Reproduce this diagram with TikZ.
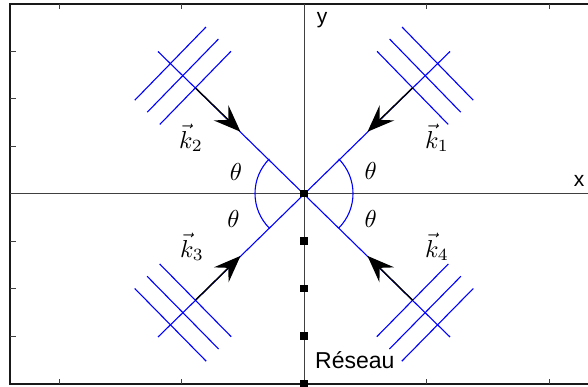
\documentclass[tikz,border=0pt]{standalone}
\usepackage{fontspec}
\setsansfont{Liberation Sans}
\usetikzlibrary{calc,arrows.meta}
\begin{document}
\begin{tikzpicture}[x=1pt,y=-1pt,
  frame/.style={black!90, line width=1.4pt},
  axisline/.style={black!75, line width=1pt},
  tickline/.style={black!75, line width=1pt},
  wave/.style={blue, line width=1.1pt},
  kvec/.style={black, line width=1.4pt, -{Stealth[length=27pt,width=21pt,inset=10pt]}},
  lat/.style={fill=black, minimum size=7.5pt, inner sep=0pt, draw=none, rectangle},
  mlab/.style={scale=2.45, inner sep=0pt},
  slab/.style={font=\sffamily\fontsize{21}{24}\selectfont, inner sep=0pt}]
\useasboundingbox (0,0) rectangle (588,387);
% frame and axes
\draw[frame] (588,4) -- (10,4) -- (10,384) -- (588,384);
\draw[axisline] (10,193.5) -- (588,193.5);
\draw[axisline] (304,4) -- (304,384);
\foreach \x in {59,181.5,426.5,549}{
  \draw[tickline] (\x,4) -- (\x,9.5);
  \draw[tickline] (\x,384) -- (\x,378.5);
}
\foreach \y in {51.5,99,146.5,241,288.5,336}{
  \draw[tickline] (10,\y) -- (15.5,\y);
}
% geometry
\coordinate (O) at (304,193.5);
\coordinate (E1) at (450,51.5);
\coordinate (E2) at (158,51.5);
\coordinate (E3) at (158,337);
\coordinate (E4) at (450,337);
\draw[wave] (E2) -- (E4);
\draw[wave] (E1) -- (E3);
\foreach \e in {E1,E2,E3,E4}{
  \foreach \f in {0.744,0.83,0.915}{
    \coordinate (c) at ($(O)!\f!(\e)$);
    \draw[wave] ($(c)!51pt!90:(O)$) -- ($(c)!51pt!-90:(O)$);
  }
}
\draw[wave] (O) ++(135:49pt) arc[start angle=135,end angle=225,radius=49pt];
\draw[wave] (O) ++(-45:49pt) arc[start angle=-45,end angle=45,radius=49pt];
% wave vectors
\foreach \e in {E1,E2,E3,E4}{
  \coordinate (S\e) at ($(O)!0.744!(\e)$);
  \coordinate (T\e) at ($(O)!0.435!(\e)$);
  \draw[kvec] (S\e) -- (T\e);
}
% lattice
\foreach \i/\y in {0/193.5,1/241,2/288.5,3/336,4/383.5}{
  \node[lat] (r\i) at (304,\y) {};
}
% labels
\node[slab,anchor=base] (xl) at (579,186.7) {x};
\node[slab,anchor=base] (yl) at (322,23.5) {y};
\node[slab,font=\sffamily\fontsize{23}{27}\selectfont,anchor=base west] (res) at (315,368.3) {Réseau};
\node[mlab] (th1) at (370.7,170.7) {$\theta$};
\node[mlab] (th2) at (236,171.5) {$\theta$};
\node[mlab] (th3) at (233.5,219) {$\theta$};
\node[mlab] (th4) at (370.7,219) {$\theta$};
\node[mlab] (k1) at (437,138) {$\vec{k}_1$};
\node[mlab] (k2) at (191,138) {$\vec{k}_2$};
\node[mlab] (k3) at (192,247) {$\vec{k}_3$};
\node[mlab] (k4) at (437,247) {$\vec{k}_4$};
\end{tikzpicture}
\end{document}
